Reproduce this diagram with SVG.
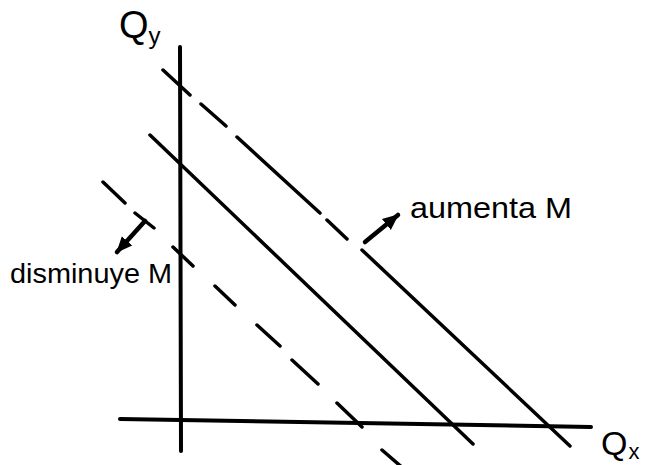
<svg xmlns="http://www.w3.org/2000/svg" width="658" height="465" viewBox="0 0 658 465">
  <style>
    .ln { fill: none; stroke: #000; stroke-width: 3.5; stroke-linecap: round; }
    .ax { fill: none; stroke: #000; stroke-width: 4; stroke-linecap: round; }
    .arr { fill: none; stroke: #000; stroke-width: 4.5; stroke-linecap: round; }
    .lbl { font-family: "Liberation Sans", "DejaVu Sans", sans-serif; fill: #000; }
  </style>
  <defs>
    <marker id="head" markerUnits="userSpaceOnUse" markerWidth="18" markerHeight="16" refX="15" refY="8" orient="auto">
      <path d="M0,1 L16,8 L0,15 Z" fill="#000"/>
    </marker>
  </defs>
  <rect width="658" height="465" fill="#fff"/>

  <g id="axes">
    <path class="ax" d="M180,47 L181,451"/>
    <path class="ax" d="M120,419 L591,427"/>
  </g>

  <g id="connectors">
    <g id="line-upper">
      <path class="ln" d="M163,70 L190,95 M201,104 L226,126 M237,137 L320,213 M327,220 L347,239"/>
      <path class="ln" d="M362,250 L570,446"/>
    </g>
    <g id="line-middle">
      <path class="ln" d="M150,135 L473,444"/>
    </g>
    <g id="line-lower">
      <path class="ln" d="M103,182 L125,203 M135,213 L154,228 M173,247 L193,266 M215,286 L235,305 M257,325 L280,346 M292,360 L318,384 M337,403 L362,427 M382,450 L404,469"/>
    </g>
    <path id="arrow-aumenta" class="arr" d="M365,242 L398,215" marker-end="url(#head)"/>
    <path id="arrow-disminuye" class="arr" d="M145,221 L117,252" marker-end="url(#head)"/>
  </g>

  <g id="label-qy">
    <text class="lbl" x="119" y="38" font-size="38">Q<tspan font-size="24" dy="6">y</tspan></text>
  </g>
  <g id="label-qx">
    <text class="lbl" x="601" y="455" font-size="34">Q<tspan font-size="22" dx="1" dy="4">x</tspan></text>
  </g>
  <g id="label-aumenta">
    <text class="lbl" x="410" y="218" font-size="30" textLength="162" lengthAdjust="spacingAndGlyphs">aumenta M</text>
  </g>
  <g id="label-disminuye">
    <text class="lbl" x="10" y="283" font-size="27" textLength="162" lengthAdjust="spacingAndGlyphs">disminuye M</text>
  </g>
</svg>
